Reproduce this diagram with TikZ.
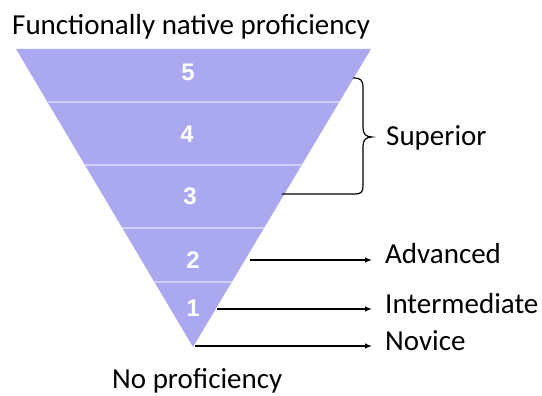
\documentclass[tikz,border=0pt]{standalone}
\usepackage{fontspec}
\setmainfont{Carlito}
\newfontfamily\digitfont{Liberation Sans}
\usetikzlibrary{calc,arrows.meta}
\definecolor{levelfill}{RGB}{170,168,238}
\definecolor{levelline}{RGB}{208,207,247}

\begin{document}
\begin{tikzpicture}[x=1pt,y=-1pt,
    lbl/.style={anchor=base west,inner sep=0pt,font=\fontsize{29}{32}\selectfont},
    lvl/.style={text=white,inner sep=0pt,font=\digitfont\bfseries\fontsize{24}{24}\selectfont},
    pointer/.style={-{Latex[length=7pt,width=5.5pt]},line width=1.2pt,shorten >=13pt},
    divider/.style={levelline,line width=1.5pt}]
    \useasboundingbox (0,0) rectangle (542,396);
    \coordinate (tl) at (16,49);
    \coordinate (tr) at (371,49);
    \coordinate (ap) at (193,347);
    \fill[levelfill] (tl) -- (tr) -- (ap) -- cycle;
    \foreach \t in {0.178,0.389,0.601,0.782}
    \draw[divider] ($(tl)!\t!(ap)$) -- ($(tr)!\t!(ap)$);
    \foreach \n/\x/\y in {5/188/72, 4/187/134, 3/190/196, 2/193/260, 1/193/308}
    \node[lvl] (l\n) at (\x,\y) {\n};
    % labels
    \node[lbl] (top) at (12,35) {Functionally native proficiency};
    \node[lbl] (bot) at (112,388) {No proficiency};
    \node[lbl] (sup) at (386,146) {Superior};
    \node[lbl] (adv) at (385,264) {Advanced};
    \node[lbl] (int) at (385,313) {Intermediate};
    \node[lbl] (nov) at (385,350) {Novice};
    % pointers
    \coordinate (a2) at (250,260);
    \coordinate (a1) at (217,309);
    \coordinate (a0) at (195,346);
    \draw[pointer] (a2) -- (a2 -| adv.west);
    \draw[pointer] (a1) -- (a1 -| int.west);
    \draw[pointer] (a0) -- (a0 -| nov.west);
    % brace
    \coordinate (b1) at (353,78);
    \coordinate (sb) at (372,137);
    \coordinate (b2) at (282,194);
    \draw[line width=1.2pt] (b1) .. controls (361,78) and (363,80) .. (363,88)
      -- (363,128) .. controls (363,134) and (366,137) .. (sb)
      .. controls (366,137) and (363,140) .. (363,146)
      -- (363,186) .. controls (363,192) and (361,194) .. (355,194) -- (b2);
\end{tikzpicture}
\end{document}
